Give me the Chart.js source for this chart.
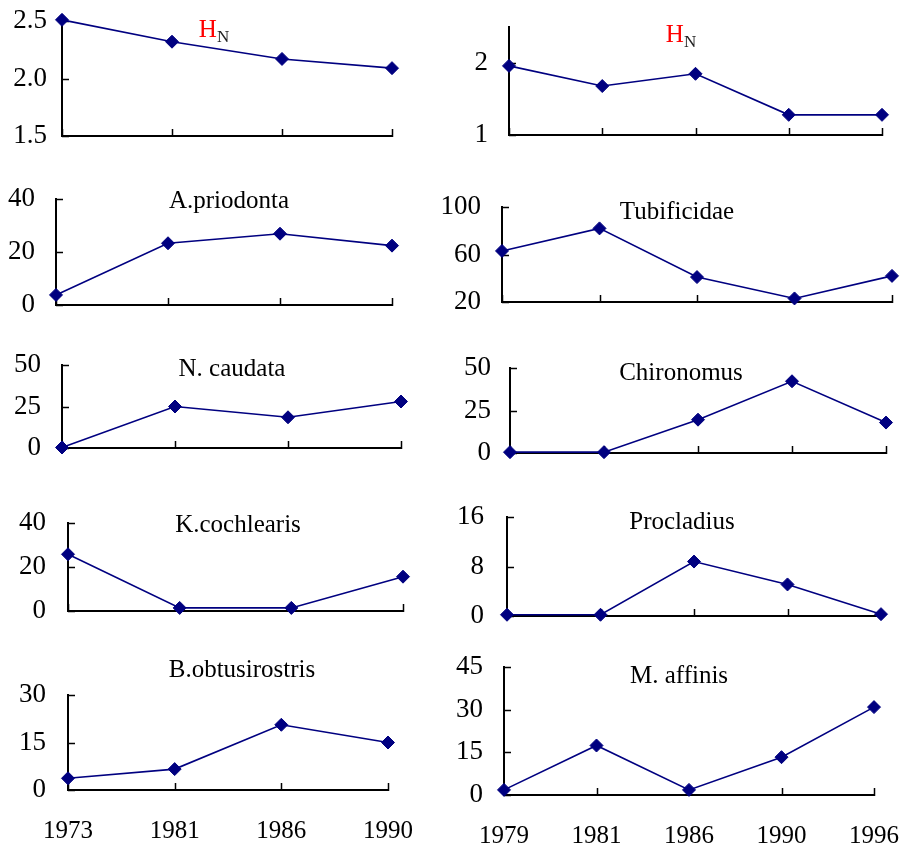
<!DOCTYPE html>
<html>
<head>
<meta charset="utf-8">
<script src="https://cdn.jsdelivr.net/npm/chart.js@4"></script>
<style>
  body { margin: 0; background: #fff; }
  #wrap { position: relative; width: 902px; height: 847px; overflow: hidden; }
  #wrap canvas { position: absolute; }
</style>
</head>
<body>
<div id="wrap"></div>
<script>
// --- data ---
const leftYears = ['1973', '1981', '1986', '1990'];
const rightYears = ['1979', '1981', '1986', '1990', '1996'];

const hnLeft = [2.51, 2.32, 2.17, 2.09];
const hnRight = [1.96, 1.68, 1.85, 1.28, 1.28];
const priodonta = [3.8, 23.3, 26.9, 22.4];
const tubificidae = [63, 82, 41, 23, 42];
const caudata = [0.3, 25, 18.5, 28];
const chironomus = [0.5, 0.5, 19.6, 42.2, 17.9];
const cochlearis = [25.8, 1.4, 1.4, 15.6];
const procladius = [0.2, 0.2, 8.8, 5.1, 0.3];
const obtusirostris = [3.7, 6.6, 20.6, 15];
const affinis = [1.8, 17.4, 1.8, 13.3, 30.9];

const hnLeftTicks = ['1.5', '2.0', '2.5'];
const hnRightTicks = ['1', '2'];
const hnRightMax = 2.5;
const priodontaTicks = ['0', '20', '40'];
const tubificidaeTicks = ['20', '60', '100'];
const caudataTicks = ['0', '25', '50'];
const chironomusTicks = ['0', '25', '50'];
const cochlearisTicks = ['0', '20', '40'];
const procladiusTicks = ['0', '8', '16'];
const obtusirostrisTicks = ['0', '15', '30'];
const affinisTicks = ['0', '15', '30', '45'];

// --- layout (page pixels: plot box, label gap, title anchor) ---
const panels = [
  { title: 'H', sub: 'N', labels: leftYears, values: hnLeft, ticks: hnLeftTicks,
    box: { l: 62, t: 21, r: 392, b: 136 }, gap: 15, tx: 214, ty: 37 },
  { title: 'H', sub: 'N', labels: rightYears, values: hnRight, ticks: hnRightTicks, max: hnRightMax,
    box: { l: 509, t: 27, r: 882, b: 135 }, gap: 21, tx: 681, ty: 42 },
  { title: 'A.priodonta', labels: leftYears, values: priodonta, ticks: priodontaTicks,
    box: { l: 56, t: 199, r: 392, b: 305 }, gap: 21, tx: 229, ty: 208 },
  { title: 'Tubificidae', labels: rightYears, values: tubificidae, ticks: tubificidaeTicks,
    box: { l: 502, t: 207, r: 892, b: 302 }, gap: 21, tx: 677, ty: 219 },
  { title: 'N. caudata', labels: leftYears, values: caudata, ticks: caudataTicks,
    box: { l: 62, t: 365, r: 401, b: 448 }, gap: 21, tx: 232, ty: 376 },
  { title: 'Chironomus', labels: rightYears, values: chironomus, ticks: chironomusTicks,
    box: { l: 510, t: 368, r: 886, b: 453 }, gap: 19, tx: 681, ty: 380 },
  { title: 'K.cochlearis', labels: leftYears, values: cochlearis, ticks: cochlearisTicks,
    box: { l: 68, t: 523, r: 403, b: 611 }, gap: 22, tx: 238, ty: 532 },
  { title: 'Procladius', labels: rightYears, values: procladius, ticks: procladiusTicks,
    box: { l: 507, t: 517, r: 881, b: 616 }, gap: 23, tx: 682, ty: 529 },
  { title: 'B.obtusirostris', labels: leftYears, values: obtusirostris, ticks: obtusirostrisTicks,
    box: { l: 68, t: 695, r: 388, b: 790 }, gap: 22, tx: 242, ty: 677, showX: true },
  { title: 'M. affinis', labels: rightYears, values: affinis, ticks: affinisTicks,
    box: { l: 504, t: 667, r: 874, b: 795 }, gap: 21, tx: 679, ty: 683, showX: true }
];

const SERIF = "'Liberation Serif', 'Times New Roman', serif";
const NAVY = '#000080';

// tick marks on the inner side of the axes + panel title
const panelDeco = {
  id: 'panelDeco',
  beforeDatasetsDraw(chart) {
    const { ctx, chartArea: a, scales: { x, y } } = chart;
    ctx.save();
    ctx.strokeStyle = '#000';
    ctx.lineWidth = 1.5;
    ctx.beginPath();
    y.ticks.forEach(t => {
      const py = Math.round(y.getPixelForValue(t.value)) + 0.5;
      ctx.moveTo(a.left, py);
      ctx.lineTo(a.left + 7, py);
    });
    x.ticks.forEach((t, i) => {
      const px = Math.round(x.getPixelForTick(i)) + 0.5;
      ctx.moveTo(px, a.bottom + 1);
      ctx.lineTo(px, a.bottom - 7);
    });
    ctx.stroke();
    ctx.restore();
  },
  afterDraw(chart, args, opts) {
    const ctx = chart.ctx;
    ctx.save();
    ctx.textBaseline = 'alphabetic';
    ctx.textAlign = 'left';
    if (opts.sub) {
      ctx.font = '25px ' + SERIF;
      const w1 = ctx.measureText(opts.text).width;
      ctx.font = '17px ' + SERIF;
      const w2 = ctx.measureText(opts.sub).width;
      const x0 = opts.x - (w1 + w2) / 2;
      ctx.font = '25px ' + SERIF;
      ctx.fillStyle = '#ff0000';
      ctx.fillText(opts.text, x0, opts.y);
      ctx.font = '17px ' + SERIF;
      ctx.fillStyle = '#222';
      ctx.fillText(opts.sub, x0 + w1, opts.y + 5);
    } else {
      ctx.font = '25px ' + SERIF;
      ctx.fillStyle = '#000';
      ctx.textAlign = 'center';
      ctx.fillText(opts.text, opts.x, opts.y);
    }
    ctx.restore();
  }
};

// drop the extra room Chart.js keeps for labels that stick out past the axis ends
function noPadding(s) {
  s.paddingTop = 0;
  s.paddingBottom = 0;
  s.paddingLeft = 0;
  s.paddingRight = 0;
}

const wrap = document.getElementById('wrap');
const YW = 70, PAD_T = 40, PAD_R = 34;

panels.forEach(p => {
  const xh = p.showX ? 56 : 12;
  const left = p.box.l - YW;
  const top = p.box.t - PAD_T;
  const w = (p.box.r - p.box.l) + YW + PAD_R;
  const h = (p.box.b - p.box.t) + PAD_T + xh;

  const canvas = document.createElement('canvas');
  canvas.width = w;
  canvas.height = h;
  canvas.style.left = left + 'px';
  canvas.style.top = top + 'px';
  canvas.style.width = w + 'px';
  canvas.style.height = h + 'px';
  wrap.appendChild(canvas);

  const tickVals = p.ticks.map(Number);
  const yMin = tickVals[0];
  const yMax = p.max !== undefined ? p.max : tickVals[tickVals.length - 1];

  new Chart(canvas.getContext('2d'), {
    type: 'line',
    data: {
      labels: p.labels,
      datasets: [{
        data: p.values,
        borderColor: NAVY,
        borderWidth: 1.6,
        backgroundColor: NAVY,
        pointStyle: 'rectRot',
        pointRadius: 6.5,
        pointHoverRadius: 6.5,
        pointBackgroundColor: NAVY,
        pointBorderColor: NAVY,
        pointBorderWidth: 1,
        tension: 0,
        clip: false
      }]
    },
    options: {
      responsive: false,
      animation: false,
      devicePixelRatio: 1,
      layout: { padding: { top: PAD_T, right: PAD_R, left: 0, bottom: 0 } },
      plugins: {
        legend: { display: false },
        tooltip: { enabled: false },
        title: { display: false },
        panelDeco: {
          text: p.title, sub: p.sub,
          x: p.tx - left, y: p.ty - top
        }
      },
      scales: {
        x: {
          type: 'category',
          offset: false,
          grid: { display: false, drawTicks: false },
          border: { color: '#000', width: 2 },
          ticks: {
            display: !!p.showX,
            color: '#000',
            font: { family: SERIF, size: 25 },
            padding: 26,
            maxRotation: 0,
            autoSkip: false
          },
          afterFit: s => { s.height = xh; noPadding(s); }
        },
        y: {
          min: yMin,
          max: yMax,
          grid: { display: false, drawTicks: false },
          border: { color: '#000', width: 2 },
          ticks: {
            color: '#000',
            font: { family: SERIF, size: 27 },
            padding: p.gap,
            callback: (v) => {
              const i = tickVals.indexOf(v);
              return i >= 0 ? p.ticks[i] : '';
            }
          },
          afterBuildTicks: s => { s.ticks = tickVals.map(v => ({ value: v })); },
          afterFit: s => { s.width = YW; noPadding(s); }
        }
      }
    },
    plugins: [panelDeco]
  });
});
</script>
</body>
</html>
